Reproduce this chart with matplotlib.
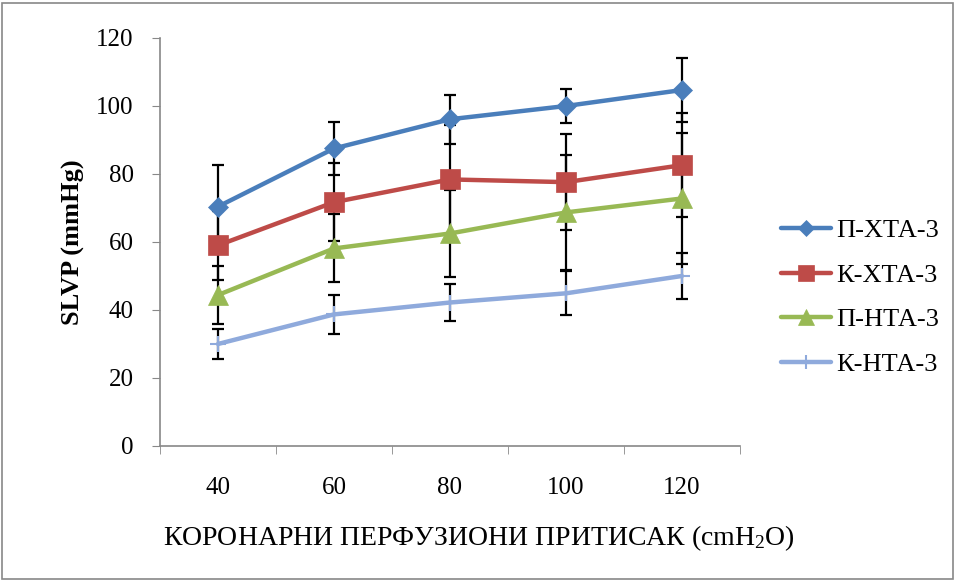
import matplotlib
matplotlib.use('Agg')
import matplotlib.pyplot as plt
from matplotlib.patches import Rectangle

plt.rcParams['font.family'] = ['Liberation Serif', 'DejaVu Serif']
plt.rcParams['mathtext.fontset'] = 'custom'
plt.rcParams['mathtext.rm'] = 'Liberation Serif'
plt.rcParams['mathtext.it'] = 'Liberation Serif'

# coronary perfusion pressure (cmH2O)
pressure = [40, 60, 80, 100, 120]

labels = ['П-ХТА-3', 'К-ХТА-3', 'П-НТА-3', 'К-НТА-3']
p_xta = [70.4, 87.5, 96.1, 100.0, 104.7]
k_xta = [59.0, 71.7, 78.4, 77.6, 82.6]
p_nta = [44.4, 58.1, 62.5, 68.7, 72.8]
k_nta = [30.0, 38.7, 42.2, 44.9, 50.0]

p_xta_err = [12.2, 7.9, 7.2, 5.0, 9.4]
k_xta_err = [10.2, 11.4, 16.0, 14.2, 15.2]
p_nta_err = [8.6, 10.0, 12.7, 16.8, 19.4]
k_nta_err = [4.5, 5.8, 5.4, 6.5, 6.9]

series = [p_xta, k_xta, p_nta, k_nta]
errors = [p_xta_err, k_xta_err, p_nta_err, k_nta_err]
colors = ['#4A7EBB', '#BE4B48', '#98B954', '#8FAADC']
markers = ['D', 's', '^', '+']
msizes = [10, 14, 14, 12]

fig = plt.figure(figsize=(9.58, 5.81), dpi=100)
ax = fig.add_axes([0.167, 0.2324, 0.6054, 0.7022])

for vals, err in zip(series, errors):
    ax.errorbar(pressure, vals, yerr=err, fmt='none', ecolor='black',
                elinewidth=1.6, capsize=4.5, capthick=1.6, zorder=2)

for vals, lab, c, m, ms in zip(series, labels, colors, markers, msizes):
    ax.plot(pressure, vals, color=c, lw=3.2, marker=m, markersize=ms,
            markeredgecolor=c, markeredgewidth=1.5 if m == '+' else 0.5,
            label=lab, zorder=3, solid_capstyle='round')

ax.set_xlim(30, 130)
ax.set_ylim(0, 120)
ax.set_yticks(range(0, 121, 20))
ax.set_xticks(pressure)
ax.set_xticks([30, 50, 70, 90, 110, 130], minor=True)
ax.tick_params(axis='x', which='major', length=0, pad=22, labelsize=18)
ax.tick_params(axis='x', which='minor', length=6, color='#888888', direction='out')
ax.tick_params(axis='y', length=6, color='#888888', labelsize=18, pad=13)

for s in ['top', 'right']:
    ax.spines[s].set_visible(False)
for s in ['left', 'bottom']:
    ax.spines[s].set_color('#888888')
    ax.spines[s].set_linewidth(1.2)

ax.set_ylabel('SLVP (mmHg)', fontsize=19, fontweight='bold', labelpad=8)
ax.set_xlabel('КОРОНАРНИ ПЕРФУЗИОНИ ПРИТИСАК (cmH$_2$O)', fontsize=20, labelpad=24)
ax.xaxis.set_label_coords(0.55, -0.19)

leg = fig.legend(loc='center left', bbox_to_anchor=(0.815, 0.488), frameon=False,
                 fontsize=19, handlelength=1.9, labelspacing=0.8, handletextpad=0.2,
                 borderpad=0, borderaxespad=0)
for h in leg.legend_handles:
    h.set_markersize(h.get_markersize() * 0.8)

fig.patches.append(Rectangle((0.002, 0.004), 0.993, 0.99, transform=fig.transFigure,
                             fill=False, edgecolor='#888888', lw=1.2))

fig.savefig('out.png', dpi=100)
